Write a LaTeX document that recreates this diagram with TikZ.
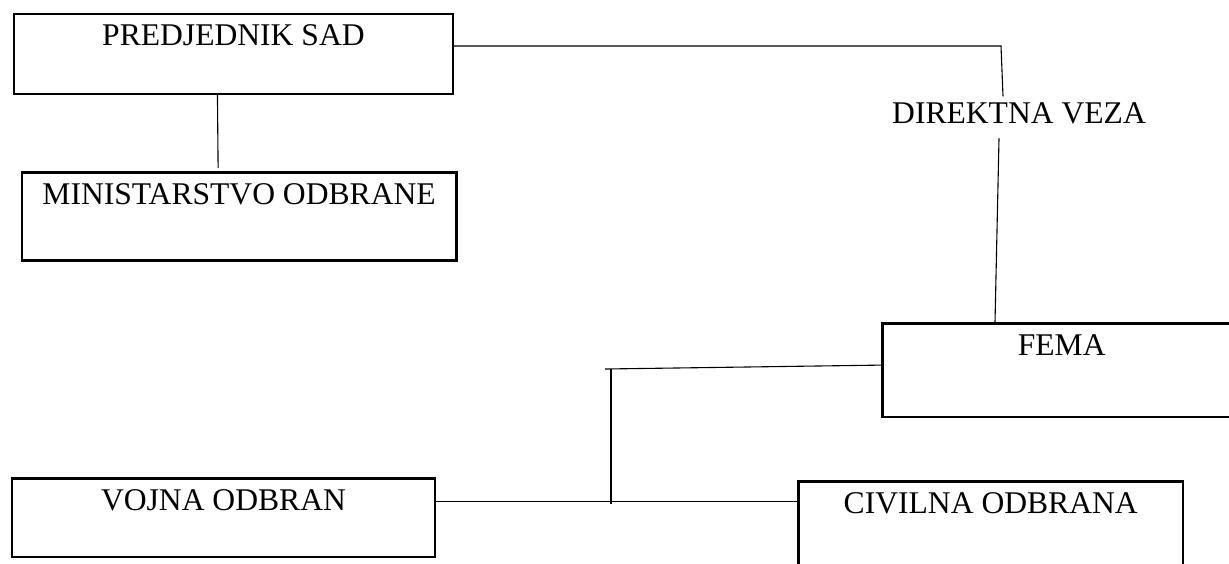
\documentclass[tikz,border=0pt]{standalone}
\usepackage{fontspec}
\setmainfont{Liberation Serif}

\begin{document}
\begin{tikzpicture}[
  x=0.5pt, y=-0.5pt,
  org box/.style={
    draw, line width=1.25pt,
    anchor=north west,
    inner xsep=0pt, inner ysep=0pt,
    text height=16pt,
    font=\fontsize{15.8}{19}\selectfont,
  },
  link/.style={line width=0.55pt},
  ]
  \path[use as bounding box, clip] (0,0) rectangle (1229,563);
  \node[org box, minimum width=219.5pt, text depth=24pt] (P) at (12.7,12.7) {PREDJEDNIK SAD};
  \node[org box, minimum width=217.15pt, text depth=28pt] (M) at (20.7,171) {MINISTARSTVO ODBRANE};
  \node[org box, minimum width=179.5pt, text depth=30.85pt] (F) at (881,322) {FEMA};
  \node[org box, minimum width=211.55pt, text depth=23.2pt] (V) at (10.7,477.3) {VOJNA ODBRAN};
  \node[org box, minimum width=192.2pt, text depth=45pt] (C) at (797.3,480) {CIVILNA ODBRANA};
  \node[font=\fontsize{15.8}{19}\selectfont, inner ysep=2.8pt, text depth=4.55pt, anchor=base] (dv) at (1019,123.3) {DIREKTNA VEZA};
  \coordinate (T) at (1001,46);
  \coordinate (J) at (611,369);
  \coordinate (K) at (611,504);
  \draw[link] ([xshift=-8pt]P.south) -- ([xshift=-10.5pt,yshift=1.5pt]M.north);
  \draw[link] (P.east |- T) -- (T) -- ([xshift=-8pt]dv.north);
  \draw[link] ([xshift=-10pt]dv.south) -- ([xshift=57pt]F.north west);
  \draw[link] ([xshift=-3pt]J) -- ([yshift=2.5pt]F.west);
  \draw[link] (J) -- (K);
  \draw[link] ([yshift=8pt]V.east) -- ([yshift=8pt]V.east -| C.west);
\end{tikzpicture}
\end{document}
